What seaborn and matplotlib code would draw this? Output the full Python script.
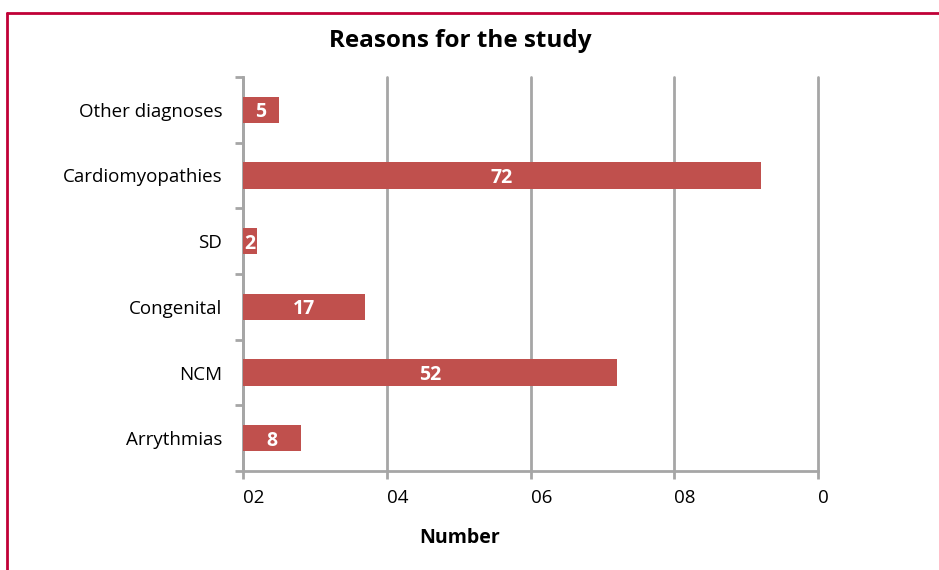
import matplotlib
matplotlib.use("Agg")
import matplotlib.pyplot as plt
import seaborn as sns
import pandas as pd
from matplotlib.lines import Line2D

categories = ["Other diagnoses", "Cardiomyopathies", "SD", "Congenital", "NCM", "Arrythmias"]
counts = [5, 72, 2, 17, 52, 8]
x_ticks = [0, 20, 40, 60, 80]
x_tick_labels = ["02", "04", "06", "08", "0"]

sns.set_style("white")
plt.rcParams["font.family"] = ["Open Sans", "DejaVu Sans"]
plt.rcParams["text.color"] = "black"
plt.rcParams["xtick.color"] = "black"
plt.rcParams["ytick.color"] = "black"

bar_color = "#c0504d"
grid_color = "#a6a6a6"

df = pd.DataFrame({"reason": categories, "count": counts})

fig = plt.figure(figsize=(9.39, 5.70), dpi=100)
ax = fig.add_axes([243 / 939, 1 - 471 / 570, 575 / 939, 394 / 570])

sns.barplot(data=df, x="count", y="reason", color=bar_color, width=0.4,
            saturation=1, linewidth=0, ax=ax, zorder=3)

ax.set_xlim(0, 80)
ax.set_ylim(len(categories) - 0.5, -0.5)
ax.set_xticks(x_ticks)
ax.set_xticklabels(x_tick_labels, ha="left", fontsize=13.5)
ax.set_yticks(range(len(categories)))
ax.set_yticklabels(categories, fontsize=13.5)
ax.set_yticks([i - 0.5 for i in range(len(categories) + 1)], minor=True)
ax.tick_params(axis="y", which="major", left=True, length=0, pad=15)
ax.tick_params(axis="y", which="minor", left=True, length=6, width=2,
               color=grid_color, direction="out")
ax.tick_params(axis="x", which="major", bottom=True, length=6, width=2,
               color=grid_color, direction="out", pad=7)
ax.grid(axis="x", color=grid_color, linewidth=2, zorder=0)
for gl in ax.xaxis.get_gridlines():
    gl.set_clip_on(False)
ax.set_axisbelow(True)

for side in ["top", "right"]:
    ax.spines[side].set_visible(False)
for side in ["left", "bottom"]:
    ax.spines[side].set_color(grid_color)
    ax.spines[side].set_linewidth(2)

ax.set_xlabel("")
ax.set_ylabel("")

for i, v in enumerate(counts):
    ax.text(v / 2, i, str(v), ha="center", va="center_baseline", color="white",
            fontsize=14, fontweight="bold", zorder=4)

fig.text(460 / 939, 1 - 41 / 570, "Reasons for the study", ha="center", va="center",
         fontsize=17.5, fontweight="bold")
fig.text(460 / 939, 1 - 538 / 570, "Number", ha="center", va="center",
         fontsize=14, fontweight="bold")

# red frame (top and left edges visible)
frame_color = "#c00037"
fig.add_artist(Line2D([7 / 939, 1], [1 - 13 / 570, 1 - 13 / 570], color=frame_color,
                      linewidth=2, transform=fig.transFigure))
fig.add_artist(Line2D([7 / 939, 7 / 939], [0, 1 - 13 / 570], color=frame_color,
                      linewidth=2, transform=fig.transFigure))

fig.savefig("out.png", dpi=100)
